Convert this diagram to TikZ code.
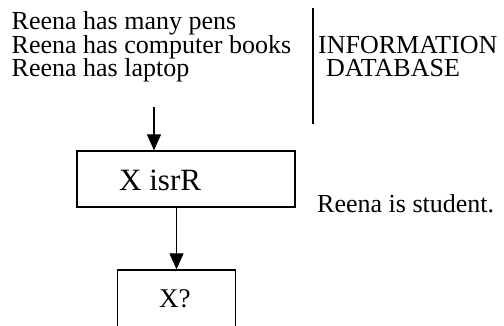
\documentclass[tikz,border=0pt]{standalone}
\usepackage{fontspec}
\setmainfont{Liberation Serif}
\usetikzlibrary{arrows.meta}
\begin{document}
\begin{tikzpicture}[x=1pt,y=-1pt,
  txt/.style={anchor=base west,inner sep=0pt,font=\fontsize{26}{28}\selectfont},
  boxx/.style={draw,line width=1.3pt,inner sep=0pt},
  conn/.style={line width=1.3pt,-{Triangle[width=14pt,length=16pt]}},
  rule/.style={line width=1.3pt}]
\useasboundingbox (0,0) rectangle (504,326);
\clip (0,0) rectangle (504,326);
\node[txt] (l1) at (11.5,30) {Reena has many pens};
\node[txt] (l2) at (11.5,53.3) {Reena has computer books};
\node[txt] (l3) at (11.5,76.6) {Reena has laptop};
\node[txt] (info) at (318,53.3) {INFORMATION};
\node[txt] (db) at (326,76.6) {DATABASE};
\coordinate (vt) at (313,8);
\coordinate (vb) at (313,124);
\draw[rule] (vt) -- (vb);
\node[boxx,minimum width=218pt,minimum height=56pt] (box1) at (186,179) {};
\node[txt,font=\fontsize{31}{33}\selectfont] (t1) at (119,190.5) {X isrR};
\node[boxx,minimum width=118pt,minimum height=90pt] (box2) at (176.5,315) {};
\node[txt,font=\fontsize{27}{29}\selectfont] (t2) at (159,308) {X?};
\node[txt] (st) at (317,213) {Reena is student.};
\coordinate (a1) at (154,107);
\draw[conn] (a1) -- (a1 |- box1.north);
\draw[conn] (box2.north |- box1.south) -- (box2.north);
\end{tikzpicture}
\end{document}
